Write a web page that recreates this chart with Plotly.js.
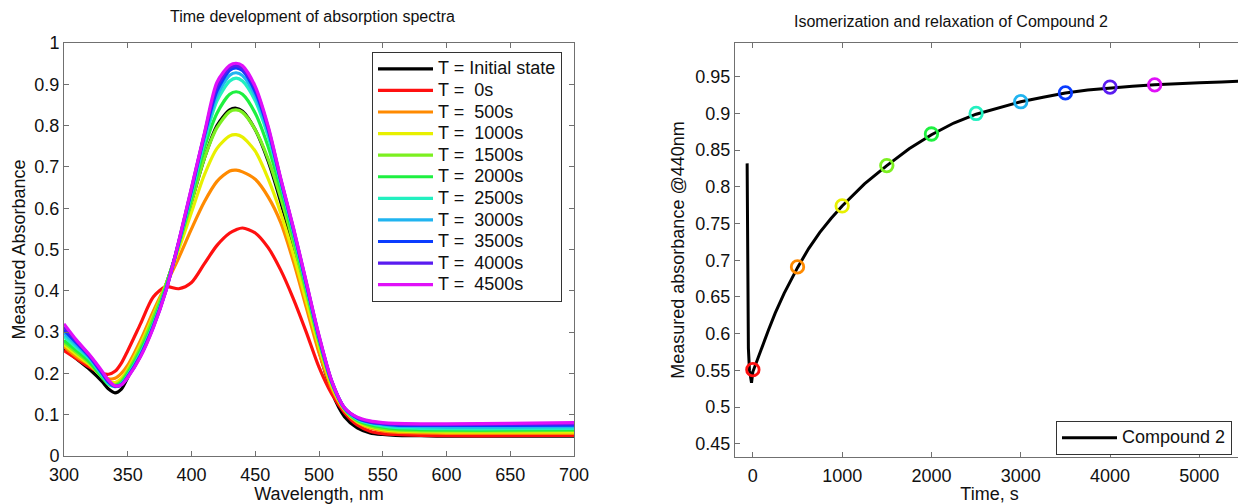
<!DOCTYPE html>
<html>
<head>
<meta charset="utf-8">
<script src="https://cdn.plot.ly/plotly-3.0.1.min.js"></script>
<style>
html,body{margin:0;padding:0;overflow:hidden;background:#fff;}
#chart{width:1246px;height:504px;}
</style>
</head>
<body>
<div id="chart"></div>
<script>
// ---------- Data: left panel (absorption spectra) ----------
const wavelength = [300,310,320,330,335,340,345,350,360,370,380,390,400,410,420,430,435,440,450,460,470,480,490,500,510,520,530,540,550,560,580,600,650,700];

const absInitial = [0.26,0.235,0.21,0.18,0.162,0.153,0.162,0.19,0.255,0.33,0.415,0.51,0.615,0.72,0.8,0.838,0.842,0.835,0.79,0.715,0.615,0.5,0.375,0.255,0.155,0.095,0.068,0.056,0.052,0.05,0.049,0.048,0.048,0.048];
const abs0 = [0.255,0.235,0.215,0.2,0.198,0.205,0.225,0.255,0.32,0.385,0.41,0.405,0.42,0.465,0.51,0.54,0.548,0.552,0.54,0.505,0.45,0.38,0.3,0.215,0.15,0.105,0.075,0.06,0.054,0.052,0.05,0.049,0.049,0.05];
const abs500 = [0.265,0.24,0.22,0.195,0.187,0.188,0.2,0.22,0.28,0.35,0.415,0.48,0.55,0.615,0.665,0.69,0.692,0.688,0.67,0.628,0.565,0.47,0.36,0.25,0.163,0.11,0.082,0.068,0.061,0.058,0.056,0.055,0.055,0.055];
const abs1000 = [0.27,0.245,0.222,0.192,0.18,0.178,0.188,0.21,0.27,0.34,0.415,0.5,0.59,0.68,0.745,0.775,0.778,0.772,0.738,0.672,0.588,0.487,0.375,0.265,0.17,0.112,0.083,0.07,0.064,0.061,0.059,0.058,0.058,0.058];
const abs1500 = [0.275,0.25,0.225,0.19,0.175,0.172,0.182,0.205,0.262,0.335,0.415,0.51,0.615,0.72,0.795,0.834,0.838,0.832,0.79,0.72,0.625,0.515,0.395,0.275,0.175,0.114,0.085,0.073,0.066,0.063,0.061,0.061,0.061,0.062];
const abs2000 = [0.28,0.255,0.228,0.19,0.173,0.17,0.178,0.2,0.255,0.325,0.41,0.512,0.625,0.745,0.83,0.876,0.882,0.876,0.83,0.75,0.645,0.53,0.405,0.28,0.178,0.115,0.087,0.076,0.07,0.066,0.064,0.063,0.063,0.064];
const abs2500 = [0.29,0.262,0.235,0.195,0.175,0.168,0.175,0.195,0.248,0.318,0.405,0.515,0.635,0.76,0.86,0.908,0.915,0.908,0.86,0.775,0.66,0.54,0.41,0.285,0.179,0.115,0.089,0.079,0.073,0.069,0.067,0.066,0.066,0.067];
const abs3000 = [0.298,0.268,0.238,0.198,0.177,0.168,0.174,0.193,0.245,0.315,0.403,0.517,0.64,0.77,0.872,0.922,0.928,0.921,0.872,0.785,0.665,0.545,0.415,0.287,0.18,0.116,0.091,0.081,0.076,0.073,0.071,0.07,0.07,0.071];
const abs3500 = [0.305,0.273,0.241,0.2,0.179,0.169,0.173,0.192,0.243,0.313,0.402,0.518,0.645,0.775,0.884,0.934,0.94,0.933,0.882,0.792,0.668,0.548,0.418,0.288,0.18,0.116,0.092,0.082,0.078,0.075,0.074,0.074,0.074,0.075];
const abs4000 = [0.312,0.277,0.243,0.202,0.181,0.169,0.172,0.191,0.242,0.312,0.401,0.519,0.648,0.778,0.895,0.94,0.945,0.938,0.89,0.796,0.67,0.55,0.42,0.29,0.181,0.116,0.093,0.083,0.079,0.077,0.076,0.076,0.077,0.078];
const abs4500 = [0.32,0.28,0.245,0.205,0.183,0.17,0.172,0.19,0.24,0.31,0.4,0.52,0.65,0.78,0.905,0.946,0.951,0.945,0.895,0.8,0.672,0.552,0.422,0.292,0.182,0.117,0.094,0.085,0.081,0.079,0.078,0.078,0.079,0.081];

const spectraLabels = ["T = Initial state","T = \u00a00s","T = \u00a0500s","T = \u00a01000s","T = \u00a01500s","T = \u00a02000s","T = \u00a02500s","T = \u00a03000s","T = \u00a03500s","T = \u00a04000s","T = \u00a04500s"];
const spectraSeries = [absInitial,abs0,abs500,abs1000,abs1500,abs2000,abs2500,abs3000,abs3500,abs4000,abs4500];

// ---------- Data: right panel (kinetics at 440 nm) ----------
const timeS = [-64,-61,-57,-50,-38,-25,-15,0,50,100,175,250,350,500,625,750,875,1000,1250,1500,1750,2000,2250,2500,2750,3000,3250,3500,3750,4000,4250,4500,4750,5000,5250,5500];
const abs440 = [0.832,0.74,0.64,0.58,0.55,0.537,0.533,0.548,0.565,0.58,0.605,0.628,0.655,0.69,0.716,0.738,0.757,0.774,0.804,0.829,0.852,0.871,0.887,0.899,0.908,0.916,0.922,0.928,0.932,0.935,0.937,0.939,0.941,0.942,0.943,0.944];
const markerTimes = [0,500,1000,1500,2000,2500,3000,3500,4000,4500];
const markerAbs = [0.551,0.691,0.774,0.829,0.872,0.9,0.916,0.928,0.936,0.939];

// ---------- Styles ----------
const spectraColors = ["#000000","#ff1010","#ff8a00","#e8f000","#7cf020","#1ef040","#22f0c0","#20b4f0","#0a3cff","#5a1cf0","#e010f8"];
const markerColors = spectraColors.slice(1);

const W = 1246, H = 504;
const px = v => v / W;
const py = v => 1 - v / H;
const FONT = "Liberation Sans, Arial, Helvetica, sans-serif";
const big = t => '<span style="font-size:18px">' + t + '</span>';

const traces = [];
spectraSeries.forEach((s, i) => {
  traces.push({
    x: wavelength, y: s, type: "scatter", mode: "lines",
    name: big(spectraLabels[i]),
    line: {color: spectraColors[i], width: 3.2, shape: "spline", smoothing: 0.8},
    xaxis: "x", yaxis: "y", legend: "legend"
  });
});
traces.push({
  x: timeS, y: abs440, type: "scatter", mode: "lines", name: big("Compound 2"),
  line: {color: "#000", width: 3},
  xaxis: "x2", yaxis: "y2", legend: "legend2"
});
traces.push({
  x: markerTimes, y: markerAbs, type: "scatter", mode: "markers", showlegend: false,
  marker: {symbol: "circle-open", size: 12.5, color: markerColors, line: {width: 2.8}},
  xaxis: "x2", yaxis: "y2"
});

const axisCommon = {
  showline: true, linecolor: "#707070", linewidth: 1, mirror: "ticks",
  ticks: "inside", ticklen: 5, tickcolor: "#707070", tickwidth: 1,
  showgrid: false, zeroline: false,
  tickfont: {family: FONT, size: 18, color: "#111"}
};

const layout = {
  width: W, height: H,
  margin: {l: 0, r: 0, t: 0, b: 0},
  paper_bgcolor: "#fff", plot_bgcolor: "#fff",
  font: {family: FONT, color: "#111"},
  showlegend: true,
  xaxis: Object.assign({}, axisCommon, {
    domain: [px(64), px(574)], range: [300, 700], dtick: 50, tick0: 300, anchor: "y",
    ticklabelstandoff: 2,
    title: {text: "Wavelength, nm", font: {family: FONT, size: 18, color: "#111"}, standoff: 5}
  }),
  yaxis: Object.assign({}, axisCommon, {
    domain: [py(456), py(43)], range: [0, 1], dtick: 0.1, tick0: 0, anchor: "x",
    title: {text: "Measured Absorbance", font: {family: FONT, size: 18, color: "#111"}, standoff: 4}
  }),
  xaxis2: Object.assign({}, axisCommon, {
    domain: [px(735), px(1244)], range: [-200, 5500], dtick: 1000, tick0: 0, anchor: "y2",
    ticklabelstandoff: 2,
    title: {text: "Time, s", font: {family: FONT, size: 18, color: "#111"}, standoff: 5}
  }),
  yaxis2: Object.assign({}, axisCommon, {
    domain: [py(457), py(43)], range: [0.432, 0.996], dtick: 0.05, tick0: 0.45, anchor: "x2",
    title: {text: "Measured absorbance @440nm", font: {family: FONT, size: 18, color: "#111"}, standoff: 6}
  }),
  legend: {
    x: px(372), y: py(52), xanchor: "left", yanchor: "top",
    bgcolor: "#fff", bordercolor: "#333", borderwidth: 1,
    font: {family: FONT, size: 14.3, color: "#111"}, itemwidth: 55, tracegroupgap: 0
  },
  legend2: {
    x: px(1056), y: py(421), xanchor: "left", yanchor: "top",
    bgcolor: "#fff", bordercolor: "#333", borderwidth: 1,
    font: {family: FONT, size: 14.3, color: "#111"}, itemwidth: 55
  },
  annotations: [
    {text: "Time development of absorption spectra", xref: "paper", yref: "paper",
     x: px(312), y: py(17), xanchor: "center", yanchor: "middle", showarrow: false,
     font: {family: FONT, size: 16, color: "#111"}},
    {text: "Isomerization and relaxation of Compound 2", xref: "paper", yref: "paper",
     x: px(951), y: py(22), xanchor: "center", yanchor: "middle", showarrow: false,
     font: {family: FONT, size: 16, color: "#111"}}
  ]
};

Plotly.newPlot("chart", traces, layout, {staticPlot: true, displayModeBar: false});
</script>
</body>
</html>
